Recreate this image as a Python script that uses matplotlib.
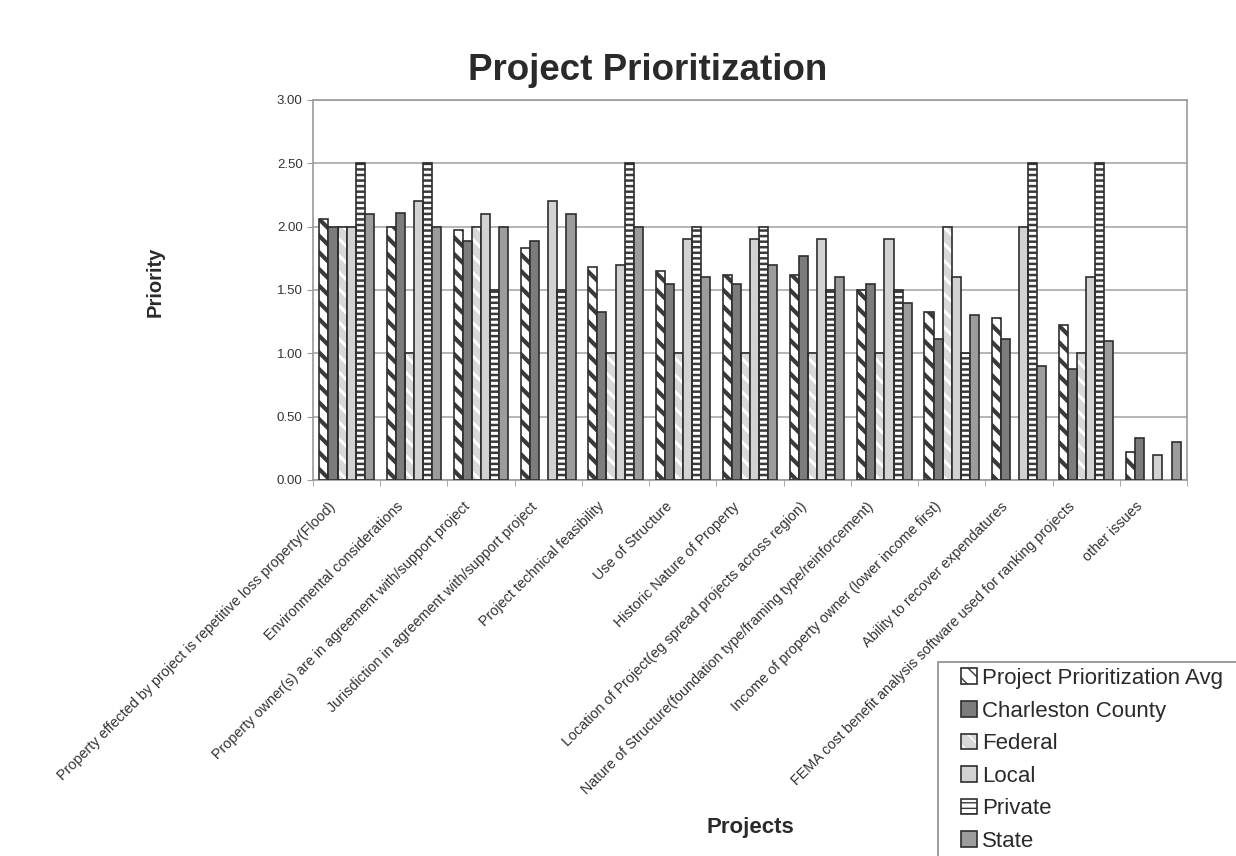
import numpy as np
import matplotlib

matplotlib.use("Agg")
import matplotlib.pyplot as plt
import matplotlib.transforms as mtransforms
from matplotlib.patches import Patch, Rectangle
from matplotlib.legend_handler import HandlerTuple

CATEGORIES = [
    "Property effected by project is repetitive loss property(Flood)",
    "Environmental considerations",
    "Property owner(s) are in agreement with/support project",
    "Jurisdiction in agreement with/support project",
    "Project technical feasibility",
    "Use of Structure",
    "Historic Nature of Property",
    "Location of Project(eg spread projects across region)",
    "Nature of Structure(foundation type/framing type/reinforcement)",
    "Income of property owner (lower income first)",
    "Ability to recover expendatures",
    "FEMA cost benefit analysis software used for ranking projects",
    "other issues",
]

SERIES = [
    "Project Prioritization Avg",
    "Charleston County",
    "Federal",
    "Local",
    "Private",
    "State",
]

nan = np.nan
AVG = [2.06, 2.00, 1.97, 1.83, 1.68, 1.65, 1.62, 1.62, 1.50, 1.33, 1.28, 1.22, 0.22]
CHARLESTON = [2.00, 2.11, 1.89, 1.89, 1.33, 1.55, 1.55, 1.77, 1.55, 1.11, 1.11, 0.88, 0.33]
FEDERAL = [2.00, 1.00, 2.00, nan, 1.00, 1.00, 1.00, 1.00, 1.00, 2.00, nan, 1.00, nan]
LOCAL = [2.00, 2.20, 2.10, 2.20, 1.70, 1.90, 1.90, 1.90, 1.90, 1.60, 2.00, 1.60, 0.20]
PRIVATE = [2.50, 2.50, 1.50, 1.50, 2.50, 2.00, 2.00, 1.50, 1.50, 1.00, 2.50, 2.50, nan]
STATE = [2.10, 2.00, 2.00, 2.10, 2.00, 1.60, 1.70, 1.60, 1.40, 1.30, 0.90, 1.10, 0.30]

VALUES = [AVG, CHARLESTON, FEDERAL, LOCAL, PRIVATE, STATE]

# (facecolor, hatch, hatch colour, hatch linewidth)
STYLES = [
    ("white", "\\\\", "#3a3a3a", 3.0),
    ("#7c7c7c", None, None, None),
    ("#d8d8d8", "\\\\", "white", 2.2),
    ("#d2d2d2", None, None, None),
    ("white", "---", "#3a3a3a", 1.8),
    ("#9c9c9c", None, None, None),
]
EDGE = "#2e2e2e"

plt.rcParams["font.family"] = ["Liberation Sans", "DejaVu Sans"]

W, H = 1236, 856
fig = plt.figure(figsize=(W / 100, H / 100), dpi=100)
ax = fig.add_axes([313 / W, 1 - 480 / H, (1187 - 313) / W, (480 - 100) / H])

x = np.arange(len(CATEGORIES))
width = 0.135
handles = []
for i, (name, vals) in enumerate(zip(SERIES, VALUES)):
    face, hatch, hcol, hlw = STYLES[i]
    pos = x + (i - 2.5) * width
    vals = np.array(vals, dtype=float)
    if hatch:
        with plt.rc_context({"hatch.linewidth": hlw}):
            ax.bar(pos, vals, width, color=face, hatch=hatch, edgecolor=hcol, linewidth=0, zorder=2)
            hp = Patch(facecolor=face, hatch=hatch, edgecolor=hcol, linewidth=0)
        ax.bar(pos, vals, width, fill=False, edgecolor=EDGE, linewidth=1.2, zorder=3)
        h = (hp, Patch(fill=False, edgecolor=EDGE, linewidth=1.2))
    else:
        ax.bar(pos, vals, width, color=face, edgecolor=EDGE, linewidth=1.2, zorder=3)
        h = Patch(facecolor=face, edgecolor=EDGE, linewidth=1.2)
    handles.append(h)

ax.set_xlim(-0.5, len(CATEGORIES) - 0.5)
ax.set_ylim(0, 3)
ax.set_yticks(np.arange(0, 3.01, 0.5))
ax.set_yticklabels([f"{v:.2f}" for v in np.arange(0, 3.01, 0.5)], fontsize=9.5, color="#333333")
ax.yaxis.grid(True, color="#a8a8a8", linewidth=1.2, zorder=0)
ax.set_axisbelow(True)
for spine in ax.spines.values():
    spine.set_color("#9a9a9a")
    spine.set_linewidth(1.2)
ax.tick_params(axis="y", length=4, color="#9a9a9a")

ax.set_xticks(x)
ax.set_xticklabels(CATEGORIES, rotation=45, ha="right", va="top",
                   rotation_mode="anchor", fontsize=10.4, color="#333333")
ax.tick_params(axis="x", length=0, pad=4)
shift = mtransforms.ScaledTranslation(-18 / 100, -14 / 100, fig.dpi_scale_trans)
for lab in ax.get_xticklabels():
    lab.set_transform(lab.get_transform() + shift)
ax.set_xticks(np.arange(-0.5, len(CATEGORIES)), minor=True)
ax.tick_params(axis="x", which="minor", length=4, color="#9a9a9a")

fig.text(648 / W, 1 - 70 / H, "Project Prioritization", ha="center", va="center",
         fontsize=26.5, fontweight="bold", color="#2a2a2a")
fig.text(155 / W, 1 - 282 / H, "Priority", ha="center", va="center", rotation=90,
         fontsize=14.5, fontweight="bold", color="#2a2a2a")
fig.text(750 / W, 1 - 828 / H, "Projects", ha="center", va="center",
         fontsize=16, fontweight="bold", color="#2a2a2a")

# legend box runs off the right and bottom edges of the page
fig.patches.append(Rectangle((938 / W, -0.01), 0.3, 1 - 662 / H + 0.01,
                             transform=fig.transFigure, facecolor="white",
                             edgecolor="#8a8a8a", linewidth=1.2, zorder=1))
leg = fig.legend(handles, SERIES, loc="upper left",
                 bbox_to_anchor=(961 / W, 1 - 668 / H), bbox_transform=fig.transFigure,
                 fontsize=16, handlelength=0.7, handleheight=0.7, handletextpad=0.25,
                 labelspacing=0.52, borderpad=0, borderaxespad=0, frameon=False,
                 handler_map={tuple: HandlerTuple(ndivide=1, pad=0)})
leg.set_zorder(2)
for t in leg.get_texts():
    t.set_color("#2a2a2a")

fig.savefig("out.png", dpi=100)
